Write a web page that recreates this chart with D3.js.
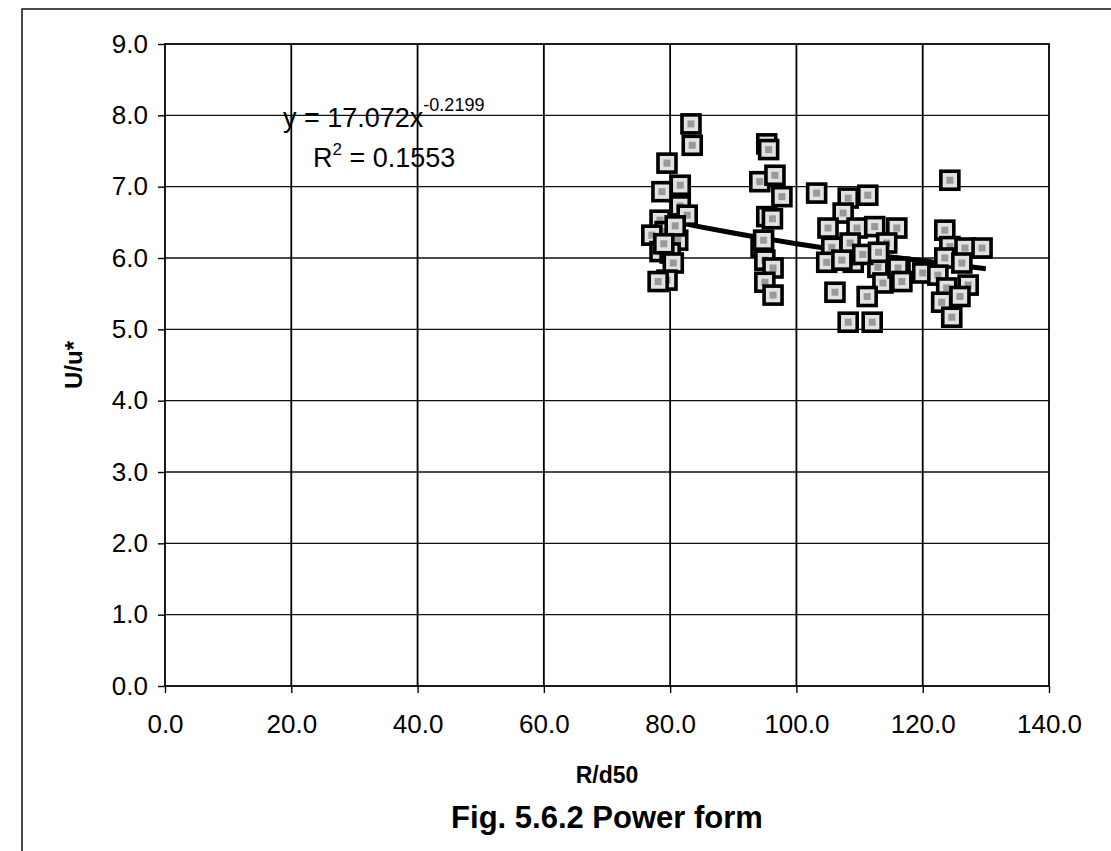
<!DOCTYPE html>
<html>
<head>
<meta charset="utf-8">
<script src="https://cdn.jsdelivr.net/npm/d3@7"></script>
<style>
  html, body { margin: 0; padding: 0; background: #fff; }
  svg { display: block; font-family: "Liberation Sans", Arial, sans-serif; }
</style>
</head>
<body>
<svg id="chart" width="1111" height="851"></svg>
<script>
"use strict";

// --- data ---
const xTicks = [0, 20, 40, 60, 80, 100, 120, 140];
const yTicks = [0, 1, 2, 3, 4, 5, 6, 7, 8, 9];

// R/d50 values of the measured points
const rd50 = [
  83.3, 83.5, 79.5, 81.6, 78.7, 81.6, 82.7, 78.4, 79.2, 77.1, 81.2, 78.4, 80.0, 80.5, 79.5, 78.1, 80.8, 79.0,
  94.2, 95.3, 95.6, 96.6, 97.7, 95.3, 96.2, 94.4, 94.8, 95.0, 96.3, 95.0, 96.3,
  103.2, 108.2, 111.3, 107.4, 105.0, 109.6, 112.4, 115.9, 105.6, 108.5, 114.3, 104.8, 109.0, 107.2, 112.9, 116.4,
  113.7, 116.4, 106.1, 111.2, 108.2, 112.0, 110.5, 113.0,
  124.3, 123.5, 124.3, 126.7, 129.4, 123.5, 126.2, 120.0, 116.1, 116.7, 122.4, 123.8, 127.2, 123.0, 125.9, 124.6
];
// U/u* values, same order
const uu = [
  7.88, 7.58, 7.33, 7.02, 6.93, 6.73, 6.60, 6.53, 6.37, 6.32, 6.25, 6.09, 6.07, 5.93, 5.69, 5.67, 6.45, 6.20,
  7.07, 7.60, 7.52, 7.16, 6.86, 6.58, 6.55, 6.15, 6.25, 5.97, 5.86, 5.66, 5.48,
  6.91, 6.84, 6.88, 6.63, 6.42, 6.42, 6.44, 6.42, 6.15, 6.21, 6.21, 5.94, 5.94, 5.97, 5.87, 5.87,
  5.65, 5.69, 5.52, 5.46, 5.10, 5.10, 6.05, 6.08,
  7.09, 6.39, 6.16, 6.14, 6.14, 6.00, 5.93, 5.79, 5.86, 5.67, 5.76, 5.58, 5.62, 5.38, 5.46, 5.17
];

// power trendline as drawn
const trendX = [77, 84, 90, 100, 110, 120, 130];
const trendY = [6.57, 6.45, 6.35, 6.20, 6.07, 5.96, 5.85];

// --- layout ---
const P = { left: 165, right: 1049, top: 44, bottom: 686 };

const svg = d3.select("#chart");

const x = d3.scaleLinear().domain([0, 140]).range([P.left, P.right]);
const y = d3.scaleLinear().domain([0, 9]).range([P.bottom, P.top]);

// outer frame (only top and left visible in the scan)
svg.append("path")
    .attr("d", "M22,851 L22,9 L1111,9")
    .attr("fill", "none").attr("stroke", "#111").attr("stroke-width", 1.5);

// gridlines
svg.append("g")
    .selectAll("line").data(yTicks.filter(d => d > 0 && d < 9)).enter().append("line")
    .attr("x1", P.left).attr("x2", P.right)
    .attr("y1", d => y(d)).attr("y2", d => y(d))
    .attr("stroke", "#111").attr("stroke-width", 1.4);

svg.append("g")
    .selectAll("line").data(xTicks.filter(d => d > 0 && d < 140)).enter().append("line")
    .attr("x1", d => x(d)).attr("x2", d => x(d))
    .attr("y1", P.top).attr("y2", P.bottom)
    .attr("stroke", "#000").attr("stroke-width", 1.8);

// plot border
svg.append("rect")
    .attr("x", P.left).attr("y", P.top)
    .attr("width", P.right - P.left).attr("height", P.bottom - P.top)
    .attr("fill", "none").attr("stroke", "#000").attr("stroke-width", 1.8);

// axes
const yAxis = svg.append("g")
    .attr("transform", `translate(${P.left},0)`)
    .call(d3.axisLeft(y).tickValues(yTicks).tickFormat(d3.format(".1f")).tickSize(7).tickPadding(10));
const xAxis = svg.append("g")
    .attr("transform", `translate(0,${P.bottom})`)
    .call(d3.axisBottom(x).tickValues(xTicks).tickFormat(d3.format(".1f")).tickSize(7).tickPadding(22));

[yAxis, xAxis].forEach(a => {
    a.select(".domain").remove();
    a.selectAll(".tick line").attr("stroke", "#000").attr("stroke-width", 1.4);
    a.selectAll(".tick text").attr("fill", "#000").style("font-size", "26px");
});

// trendline (under the markers)
svg.append("path")
    .datum(trendX.map((d, i) => [d, trendY[i]]))
    .attr("fill", "none").attr("stroke", "#000").attr("stroke-width", 5)
    .attr("d", d3.line().x(d => x(d[0])).y(d => y(d[1])).curve(d3.curveMonotoneX));

// markers
const M = 18;
const pts = svg.append("g").selectAll("g")
    .data(rd50.map((d, i) => [d, uu[i]]))
    .enter().append("g")
    .attr("transform", d => `translate(${x(d[0])},${y(d[1])})`);

pts.append("rect")
    .attr("x", -M / 2).attr("y", -M / 2).attr("width", M).attr("height", M)
    .attr("fill", "#e2e2e2").attr("stroke", "#000").attr("stroke-width", 3.6);
pts.append("rect")
    .attr("x", -3.5).attr("y", -3.5).attr("width", 7).attr("height", 7)
    .attr("fill", "#999");

// equation annotation
const eq = svg.append("text")
    .attr("x", 283).attr("y", 127)
    .attr("fill", "#000").style("font-size", "27px");
eq.append("tspan").text("y = 17.072x");
eq.append("tspan").attr("dy", -16).style("font-size", "18px").text("-0.2199");

const r2 = svg.append("text")
    .attr("x", 313).attr("y", 167)
    .attr("fill", "#000").style("font-size", "27px");
r2.append("tspan").text("R");
r2.append("tspan").attr("dy", -12).style("font-size", "17px").text("2");
r2.append("tspan").attr("dy", 12).text(" = 0.1553");

// titles
svg.append("text")
    .attr("x", (P.left + P.right) / 2).attr("y", 783)
    .attr("text-anchor", "middle").attr("fill", "#000")
    .style("font-size", "23px").style("font-weight", "bold")
    .text("R/d50");

svg.append("text")
    .attr("transform", `translate(82,${(P.top + P.bottom) / 2}) rotate(-90)`)
    .attr("text-anchor", "middle").attr("fill", "#000")
    .style("font-size", "24px").style("font-weight", "bold")
    .text("U/u*");

svg.append("text")
    .attr("x", (P.left + P.right) / 2).attr("y", 828)
    .attr("text-anchor", "middle").attr("fill", "#000")
    .style("font-size", "31px").style("font-weight", "bold")
    .text("Fig. 5.6.2 Power form");
</script>
</body>
</html>
